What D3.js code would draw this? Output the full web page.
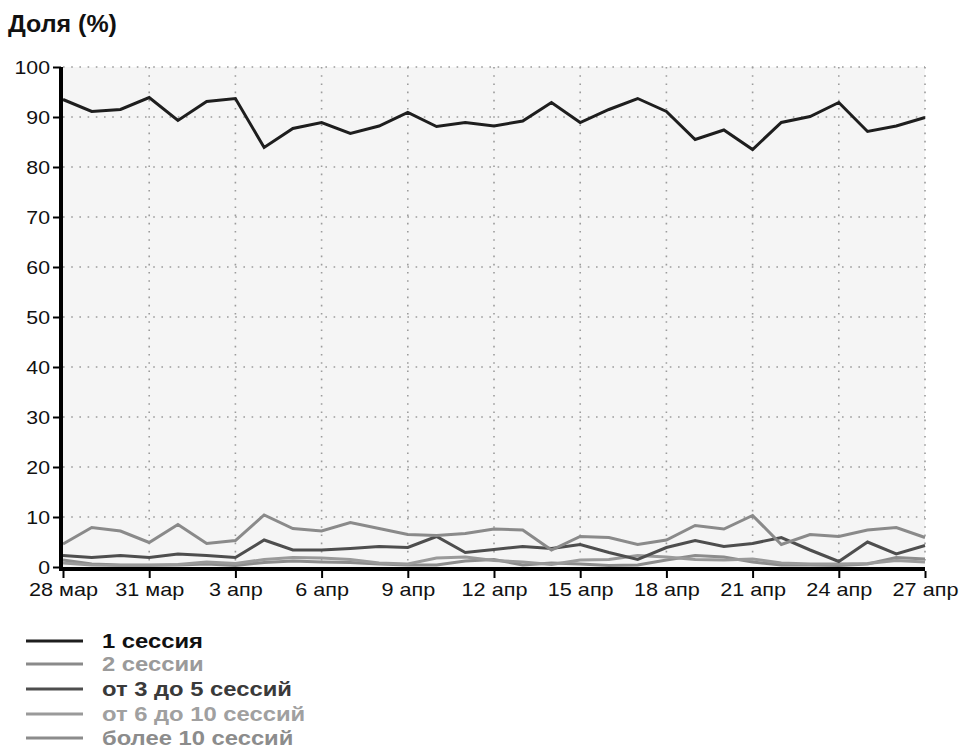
<!DOCTYPE html>
<html><head><meta charset="utf-8">
<script src="https://cdn.jsdelivr.net/npm/d3@7/dist/d3.min.js"></script>
<style>
body{margin:0;background:#fff;}
text{font-family:"Liberation Sans",Arial,sans-serif;}
</style></head>
<body><svg id="c" width="960" height="748"></svg>
<script>
const dates = ["28 мар","29 мар","30 мар","31 мар","1 апр","2 апр","3 апр","4 апр","5 апр","6 апр","7 апр","8 апр","9 апр","10 апр","11 апр","12 апр","13 апр","14 апр","15 апр","16 апр","17 апр","18 апр","19 апр","20 апр","21 апр","22 апр","23 апр","24 апр","25 апр","26 апр","27 апр"];
const xTickLabels = ["28 мар","31 мар","3 апр","6 апр","9 апр","12 апр","15 апр","18 апр","21 апр","24 апр","27 апр"];
const yTicks = [0,10,20,30,40,50,60,70,80,90,100];
const seriesNames = ["1 сессия","2 сессии","от 3 до 5 сессий","от 6 до 10 сессий","более 10 сессий"];
const s1 = [93.5,91.1,91.5,93.9,89.3,93.1,93.7,83.9,87.7,88.9,86.7,88.2,90.9,88.1,88.9,88.2,89.2,92.9,88.9,91.5,93.7,91.1,85.5,87.4,83.5,88.9,90.1,92.9,87.1,88.2,89.9];
const s2 = [4.6,7.9,7.2,4.9,8.5,4.7,5.3,10.4,7.7,7.2,8.9,7.7,6.5,6.3,6.7,7.6,7.4,3.4,6.1,5.9,4.5,5.4,8.3,7.6,10.3,4.5,6.5,6.1,7.4,7.9,5.9];
const s3 = [2.3,1.9,2.3,1.9,2.6,2.3,1.9,5.4,3.4,3.4,3.7,4.1,3.9,6.1,2.9,3.5,4.1,3.7,4.5,2.9,1.5,3.9,5.3,4.1,4.7,5.9,3.4,1.1,5.0,2.6,4.3];
const s4 = [0.8,0.4,0.3,0.3,0.5,1.0,0.7,1.5,1.9,1.8,1.5,0.8,0.6,1.8,2.0,1.3,1.0,0.5,1.4,1.5,2.3,2.0,1.5,1.4,1.6,0.8,0.6,0.6,0.7,1.3,1.0];
const s5 = [1.4,0.6,0.4,0.4,0.4,0.6,0.3,0.9,1.2,1.0,0.9,0.6,0.4,0.4,1.2,1.5,0.4,0.8,0.6,0.3,0.4,1.4,2.3,2.0,1.0,0.4,0.4,0.3,0.6,1.9,1.6];
const allSeries = [s1,s2,s3,s4,s5];
const lineColors = ["#1e1e1e","#8a8a8a","#4e4e4e","#9a9a9a","#8c8c8c"];
const textColors = ["#111","#9a9a9a","#3a3a3a","#a0a0a0","#8c8c8c"];

const svg = d3.select("#c");
const L=63,R=925,T=67,B=567;
const x = d3.scalePoint().domain(dates).range([L,R]);
const y = d3.scaleLinear().domain([0,100]).range([B,T]);

function stretch(k){
  return sel => sel.each(function(){ const w=this.getComputedTextLength(); this.setAttribute("textLength", w*k); this.setAttribute("lengthAdjust","spacingAndGlyphs"); });
}

svg.append("rect").attr("x",L).attr("y",T).attr("width",R-L).attr("height",B-T).attr("fill","#f5f5f5");

// grid
const g = svg.append("g").attr("stroke","#9c9c9c").attr("stroke-width",1.6).attr("stroke-dasharray","1.6,6.6");
g.selectAll(".h").data(yTicks.filter(d=>d>0)).join("line")
  .attr("x1",L).attr("x2",R).attr("y1",d=>y(d)).attr("y2",d=>y(d));
g.selectAll(".v").data(xTickLabels.slice(1)).join("line")
  .attr("x1",d=>x(d)).attr("x2",d=>x(d)).attr("y1",T).attr("y2",B);

// lines
const line = d3.line().x((d,i)=>x(dates[i])).y(d=>y(d));
const order=[4,3,2,1,0];
svg.append("g").selectAll("path").data(order).join("path")
  .attr("d",k=>line(allSeries[k])).attr("fill","none")
  .attr("stroke",k=>lineColors[k]).attr("stroke-width",3).attr("stroke-linejoin","miter");

// axes
const yAxis = svg.append("g").attr("transform",`translate(${L-2},0)`)
  .call(d3.axisLeft(y).tickValues(yTicks).tickSize(8).tickPadding(3));
yAxis.select(".domain").attr("stroke","#000").attr("stroke-width",4).attr("d",`M0,${T}V${B+4}`);
yAxis.selectAll(".tick line").attr("stroke","#000").attr("stroke-width",2);
yAxis.selectAll(".tick text").attr("font-size",18.5).attr("fill","#111").attr("dy","0.36em").call(stretch(1.15));

const xAxis = svg.append("g").attr("transform",`translate(0,${B+2})`)
  .call(d3.axisBottom(x).tickValues(xTickLabels).tickSize(9).tickPadding(5));
xAxis.select(".domain").attr("stroke","#000").attr("stroke-width",4).attr("d",`M${L-4},0H${R}`);
xAxis.selectAll(".tick line").attr("stroke","#000").attr("stroke-width",2).attr("y1",2);
xAxis.selectAll(".tick text").attr("font-size",18.5).attr("fill","#111").call(stretch(1.17));

// title
svg.append("text").attr("x",8).attr("y",32).attr("font-size",24).attr("font-weight","bold").attr("fill","#111")
  .text("Доля (%)").call(stretch(1.04));

// legend
const ly = [641,664,689,714,738];
const lg = svg.append("g");
seriesNames.forEach((n,i)=>{
  lg.append("line").attr("x1",26).attr("x2",83).attr("y1",ly[i]).attr("y2",ly[i])
    .attr("stroke",lineColors[i]).attr("stroke-width",3);
  lg.append("text").attr("x",102).attr("y",ly[i]).attr("dy","0.36em").attr("font-size",20.5)
    .attr("font-weight","bold").attr("fill",textColors[i]).text(n).call(stretch(1.16));
});
</script></body></html>
